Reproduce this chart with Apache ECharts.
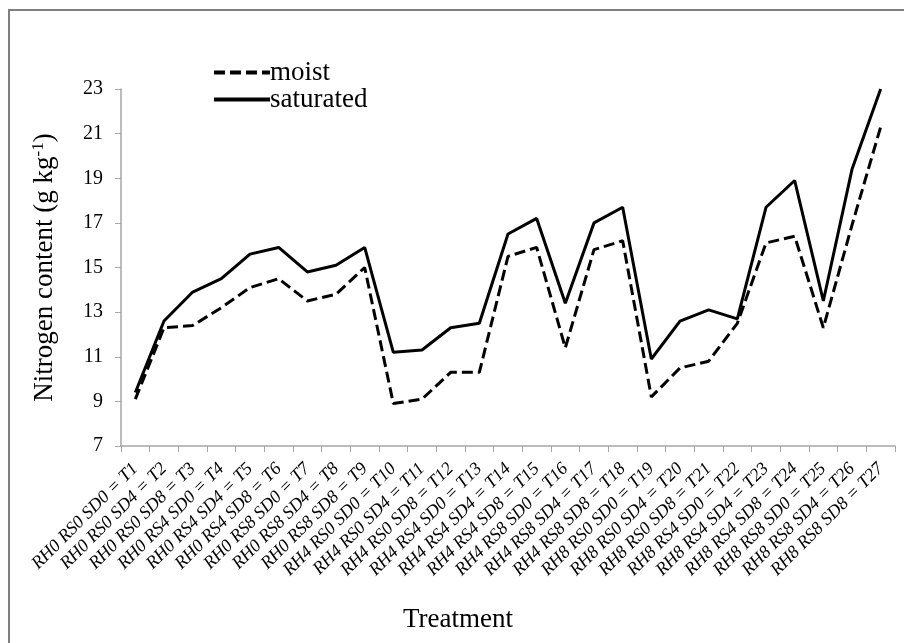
<!DOCTYPE html>
<html>
<head>
<meta charset="utf-8">
<script src="https://cdn.jsdelivr.net/npm/echarts@6/dist/echarts.min.js"></script>
<style>
html,body{margin:0;padding:0;background:#fff;}
#chart{width:904px;height:643px;}
</style>
</head>
<body>
<div id="chart"></div>
<script>
var categories = [
  "RH0 RS0 SD0 = T1","RH0 RS0 SD4 = T2","RH0 RS0 SD8 = T3",
  "RH0 RS4 SD0 = T4","RH0 RS4 SD4 = T5","RH0 RS4 SD8 = T6",
  "RH0 RS8 SD0 = T7","RH0 RS8 SD4 = T8","RH0 RS8 SD8 = T9",
  "RH4 RS0 SD0 = T10","RH4 RS0 SD4 = T11","RH4 RS0 SD8 = T12",
  "RH4 RS4 SD0 = T13","RH4 RS4 SD4 = T14","RH4 RS4 SD8 = T15",
  "RH4 RS8 SD0 = T16","RH4 RS8 SD4 = T17","RH4 RS8 SD8 = T18",
  "RH8 RS0 SD0 = T19","RH8 RS0 SD4 = T20","RH8 RS0 SD8 = T21",
  "RH8 RS4 SD0 = T22","RH8 RS4 SD4 = T23","RH8 RS4 SD8 = T24",
  "RH8 RS8 SD0 = T25","RH8 RS8 SD4 = T26","RH8 RS8 SD8 = T27"
];
var moist = [9.1,12.3,12.4,13.2,14.1,14.5,13.5,13.8,15.0,
             8.9,9.1,10.3,10.3,15.5,15.9,11.4,15.8,16.2,
             9.2,10.5,10.8,12.5,16.1,16.4,12.3,16.9,21.3];
var saturated = [9.4,12.6,13.9,14.5,15.6,15.9,14.8,15.1,15.9,
                 11.2,11.3,12.3,12.5,16.5,17.2,13.4,17.0,17.7,
                 10.9,12.6,13.1,12.7,17.7,18.9,13.5,19.4,23.0];
var yTicks = {min: 7, max: 23, interval: 2};

var FONT = '"Liberation Serif", "Times New Roman", serif';
var chart = echarts.init(document.getElementById('chart'), null, {renderer: 'canvas'});
chart.setOption({
  backgroundColor: '#fff',
  animation: false,
  grid: {left: 121, right: 9, top: 89, bottom: 197, containLabel: false, outerBoundsMode: 'none'},
  legend: {
    orient: 'vertical',
    left: 207, top: 54,
    itemWidth: 56, itemHeight: 14, itemGap: 0,
    itemStyle: {color: 'rgba(0,0,0,0)', borderWidth: 0, opacity: 0},
    lineStyle: {width: 4},
    textStyle: {fontFamily: FONT, fontSize: 27, color: '#000', padding: [0,0,0,-5]},
    data: ['moist', 'saturated']
  },
  xAxis: {
    type: 'category',
    data: categories,
    boundaryGap: true,
    axisLine: {lineStyle: {color: '#a6a6a6', width: 1.5}},
    axisTick: {show: true, inside: false, length: 6, interval: 0, alignWithLabel: false, lineStyle: {color: '#a6a6a6'}},
    axisLabel: {interval: 0, rotate: 45, margin: 20, fontFamily: FONT, fontStyle: 'italic', fontSize: 18, color: '#000'},
    splitLine: {show: false}
  },
  yAxis: {
    type: 'value',
    min: yTicks.min, max: yTicks.max, interval: yTicks.interval,
    axisLine: {show: true, lineStyle: {color: '#a6a6a6', width: 1.5}},
    axisTick: {show: true, inside: false, length: 6, lineStyle: {color: '#a6a6a6'}},
    axisLabel: {margin: 18, fontFamily: FONT, fontSize: 20, color: '#000'},
    splitLine: {show: false},
    name: 'Nitrogen content (g kg{sup|-1})',
    nameLocation: 'middle',
    nameGap: 62,
    nameTextStyle: {
      fontFamily: FONT, fontSize: 27, color: '#000',
      rich: {sup: {fontFamily: FONT, fontSize: 17, color: '#000', padding: [0, 0, 12, 0]}}
    }
  },
  series: [
    {
      name: 'moist', type: 'line', data: moist,
      symbol: 'none', smooth: false,
      lineStyle: {color: '#000', width: 3, type: [11, 5]},
      itemStyle: {color: '#000'}
    },
    {
      name: 'saturated', type: 'line', data: saturated,
      symbol: 'none', smooth: false,
      lineStyle: {color: '#000', width: 3, type: 'solid'},
      itemStyle: {color: '#000'}
    }
  ],
  graphic: [
    {type: 'rect', shape: {x: 9, y: 10, width: 920, height: 660}, style: {fill: 'none', stroke: '#7f7f7f', lineWidth: 2}, silent: true},
    {type: 'text', x: 458, y: 620, style: {text: 'Treatment', fontFamily: FONT, fontSize: 27, fill: '#000', align: 'center', verticalAlign: 'middle'}, silent: true}
  ]
});
</script>
</body>
</html>
